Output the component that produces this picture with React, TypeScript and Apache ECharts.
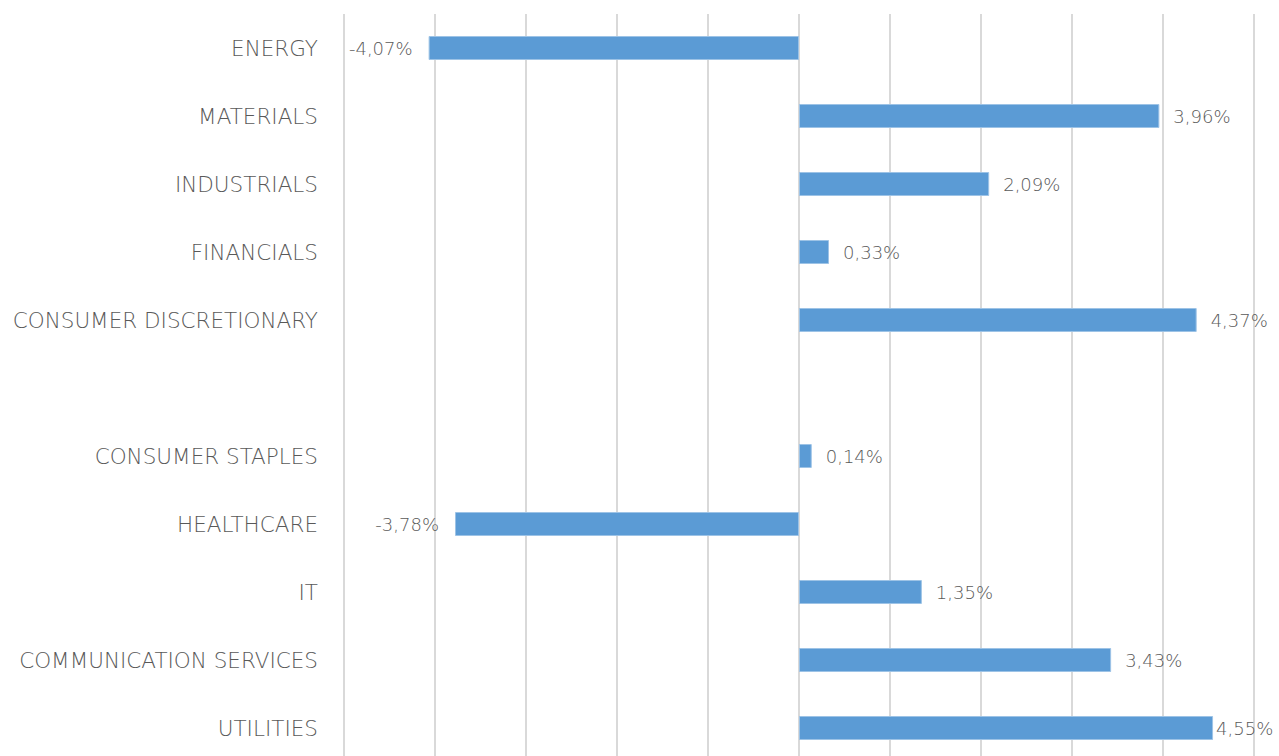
import React, { useEffect, useRef } from "react";
import * as echarts from "echarts";

const categories = [
  "ENERGY",
  "MATERIALS",
  "INDUSTRIALS",
  "FINANCIALS",
  "CONSUMER DISCRETIONARY",
  "",
  "CONSUMER STAPLES",
  "HEALTHCARE",
  "IT",
  "COMMUNICATION SERVICES",
  "UTILITIES",
];

const values: (number | null)[] = [-4.07, 3.96, 2.09, 0.33, 4.37, null, 0.14, -3.78, 1.35, 3.43, 4.55];

const FONT = "'DejaVu Sans', sans-serif";

export default function App() {
  const ref = useRef<HTMLDivElement>(null);
  useEffect(() => {
    if (!ref.current) return;
    const chart = echarts.init(ref.current, null, { renderer: "svg" });
    const data = values.map((v, i) => {
      if (v === null) return { value: null };
      const neg = v < 0;
      const isLast = i === values.length - 1;
      return {
        value: v,
        label: {
          position: neg ? "left" : "right",
          distance: isLast ? 3 : neg ? 16 : 14,
        },
      };
    });
    chart.setOption({
      animation: false,
      grid: { left: 344, right: 25, top: 14, height: 748 },
      xAxis: {
        type: "value",
        min: -5,
        max: 5,
        interval: 1,
        axisLabel: { show: false },
        axisLine: { show: false },
        axisTick: { show: false },
        splitLine: { show: true, lineStyle: { color: "#d9d9d9", width: 2 } },
      },
      yAxis: {
        type: "category",
        data: categories,
        inverse: true,
        axisLine: { show: false },
        axisTick: { show: false },
        splitLine: { show: false },
        axisLabel: {
          margin: 26,
          color: "#595959",
          fontFamily: FONT,
          fontWeight: 200,
          fontSize: 21.5,
        },
      },
      series: [
        {
          type: "bar",
          data,
          barWidth: 24,
          itemStyle: { color: "#5b9bd5", borderColor: "#9dc3e6", borderWidth: 1 },
          label: {
            show: true,
            color: "#595959",
            fontFamily: FONT,
            fontWeight: 200,
            fontSize: 18,
            formatter: (p: any) =>
              p.value === null || p.value === undefined
                ? ""
                : Number(p.value).toFixed(2).replace(".", ",") + "%",
          },
        },
      ],
    });
    return () => chart.dispose();
  }, []);
  return (
    <div
      ref={ref}
      style={{ position: "fixed", left: 0, top: 0, width: 1279, height: 770, background: "#fff" }}
    />
  );
}
